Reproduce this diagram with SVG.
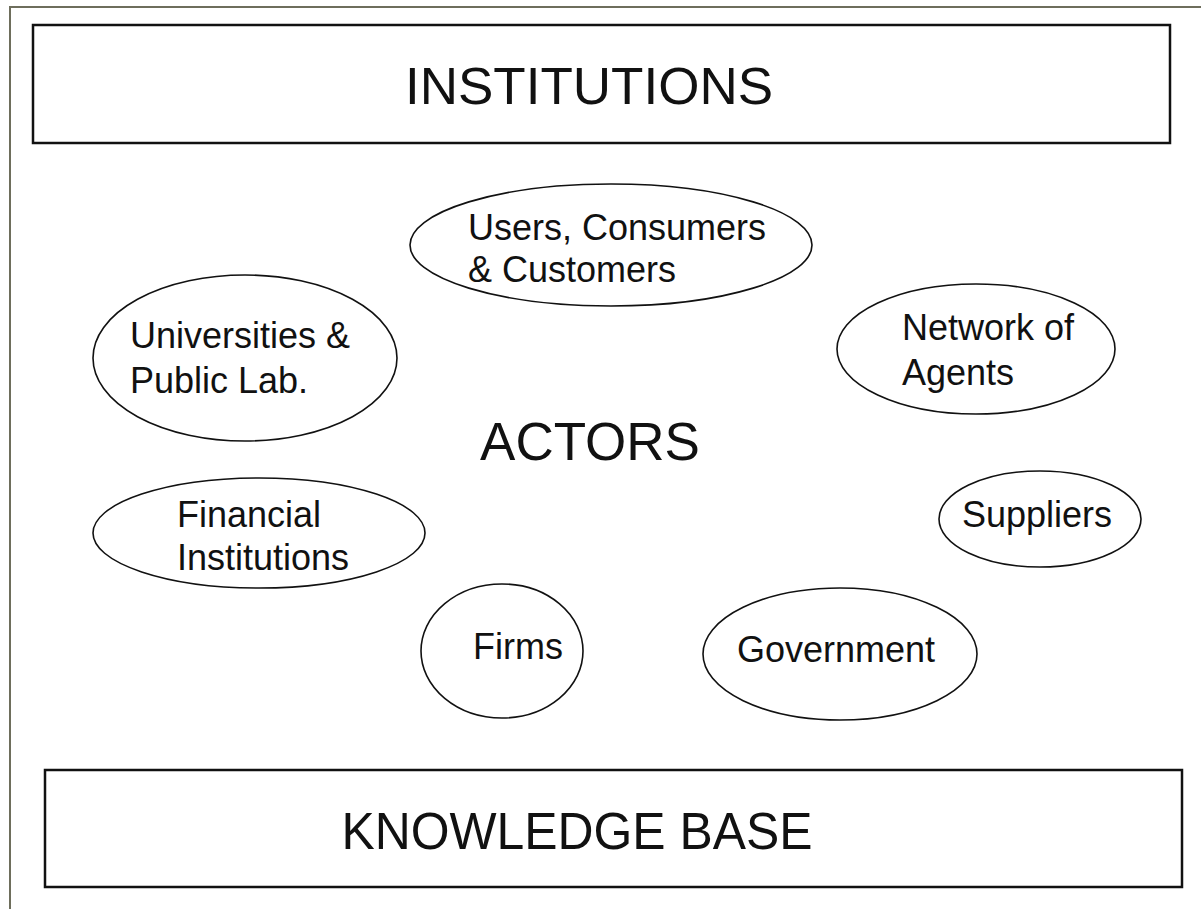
<svg xmlns="http://www.w3.org/2000/svg" width="1201" height="909" viewBox="0 0 1201 909">
<style>
.box{fill:#ffffff;stroke:#111111;stroke-width:2.5}
.ell{fill:none;stroke:#111111;stroke-width:1.6}
.big{font-family:"Liberation Sans",Arial,sans-serif;font-size:52px;fill:#111111}
.lbl{font-family:"Liberation Sans",Arial,sans-serif;font-size:36px;fill:#111111}
.frame{fill:none;stroke:#6e6e5c;stroke-width:2}
</style>
<rect x="0" y="0" width="1201" height="909" fill="#ffffff"/>
<path class="frame" d="M10,909 V7 H1201"/>
<g id="institutions">
<rect class="box" x="33" y="25" width="1137" height="118"/>
<text class="big" x="589" y="104" text-anchor="middle" textLength="368" lengthAdjust="spacingAndGlyphs">INSTITUTIONS</text>
</g>
<g id="knowledge-base">
<rect class="box" x="45" y="770" width="1137" height="117"/>
<text class="big" x="577" y="849" text-anchor="middle" textLength="471" lengthAdjust="spacingAndGlyphs">KNOWLEDGE BASE</text>
</g>
<g id="actors">
<text class="big" x="590" y="460" text-anchor="middle" style="font-size:53px">ACTORS</text>
</g>
<g id="users">
<ellipse class="ell" cx="611" cy="245" rx="201" ry="61"/>
<text class="lbl" x="468" y="240">Users, Consumers</text>
<text class="lbl" x="468" y="282">&amp; Customers</text>
</g>
<g id="universities">
<ellipse class="ell" cx="245" cy="358" rx="152" ry="83"/>
<text class="lbl" x="130" y="348">Universities &amp;</text>
<text class="lbl" x="130" y="393">Public Lab.</text>
</g>
<g id="network">
<ellipse class="ell" cx="976" cy="349" rx="139" ry="65"/>
<text class="lbl" x="902" y="340">Network of</text>
<text class="lbl" x="902" y="385">Agents</text>
</g>
<g id="financial">
<ellipse class="ell" cx="259" cy="533" rx="166" ry="55"/>
<text class="lbl" x="177" y="527">Financial</text>
<text class="lbl" x="177" y="570">Institutions</text>
</g>
<g id="suppliers">
<ellipse class="ell" cx="1040" cy="519" rx="101" ry="48"/>
<text class="lbl" x="962" y="527">Suppliers</text>
</g>
<g id="firms">
<ellipse class="ell" cx="502" cy="651" rx="81" ry="67"/>
<text class="lbl" x="473" y="659">Firms</text>
</g>
<g id="government">
<ellipse class="ell" cx="840" cy="654" rx="137" ry="66"/>
<text class="lbl" x="737" y="662">Government</text>
</g>
<g id="connectors"></g>
</svg>
